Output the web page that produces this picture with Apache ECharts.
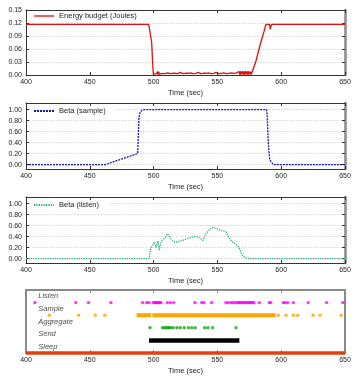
<!DOCTYPE html>
<html><head><meta charset="utf-8">
<script src="https://cdn.jsdelivr.net/npm/echarts/dist/echarts.min.js"></script>
<style>html,body{margin:0;padding:0;background:#fff}#c{width:360px;height:378px}</style>
</head><body><div id="c"></div>
<script>
// ---------- data ----------
const xMin = 400, xMax = 650, xStep = 50;
const energyTicks = [0, 0.03, 0.06, 0.09, 0.12, 0.15];
const betaTicks = [0, 0.2, 0.4, 0.6, 0.8, 1.0];

const energyTime = [400,430,460,490,491.5,492,494.5,495,495.5,496.2,496.6,497,497.7,498.5,499.2,499.8,501,502.5,503,503.5,504,504.5,505.5,507,509,511,513,515,517,519,521,523,525,527,529,531,533,535,537,539,541,543,545,547,549,551,553,555,557,559,561,563,565,566.5,
 567,567.5,568,568.5,569,569.5,570,570.5,571,571.5,572,572.5,573,573.5,574,574.5,575,575.5,576,576.5,
 577,580,584,586.5,588,590.8,591.5,592.3,600,650];
const energyValue = [0.117,0.117,0.117,0.117,0.114,0.117,0.117,0.113,0.117,0.117,0.114,0.117,0.117,0.075,0.03,0.002,0.004,0.003,0.008,0.001,0.008,0.002,0.005,0.004,0.003,0.005,0.003,0.004,0.004,0.003,0.006,0.003,0.004,0.004,0.005,0.003,0.004,0.006,0.003,0.004,0.004,0.005,0.003,0.004,0.006,0.003,0.004,0.005,0.003,0.004,0.005,0.004,0.005,0.004,
 0.008,0.001,0.009,0.001,0.008,0.002,0.009,0.001,0.008,0.001,0.009,0.002,0.008,0.001,0.009,0.001,0.008,0.002,0.008,0.001,
 0,0.03,0.075,0.1,0.117,0.117,0.106,0.117,0.117,0.117];

const sampleTime  = [400,462,487.5,488,488.5,489.5,491,493,588.5,589,589.5,590,590.5,591,592,593,594,650];
const sampleValue = [0,0,0.2,0.5,0.85,0.95,0.99,1,1,0.9,0.6,0.35,0.2,0.1,0.05,0.02,0,0];

const listenTime  = [400,496.5,497.5,499,500.5,502,503.5,504.5,506,508,511,514,517,520,525,530,533,536,538.5,541,544,546,549,552,555,557,559,562,564,567,569,571,573,575,650];
const listenValue = [0,0,0.18,0.2,0.3,0.2,0.32,0.15,0.32,0.36,0.45,0.35,0.29,0.31,0.35,0.39,0.41,0.38,0.33,0.45,0.53,0.57,0.55,0.52,0.5,0.48,0.38,0.3,0.27,0.2,0.08,0.03,0.01,0,0];

const stateNames = ['Sleep','Send','Aggregate','Sample','Listen'];
const stateColors = ['#e0400a','#000000','#11a811','#ffa500','#ff00ff'];
const listenEvents = [407,439,449,466.6,491.4,494.6,496.4,499.8,500.8,501.6,502.4,503.2,504,504.8,505.8,510.8,513.2,515.8,532.4,537.7,539.5,545.5,556.7,558.6,560.7,562,563.8,565.6,566.5,567.5,568.5,569.5,570.5,571.5,572.5,573.5,574.5,575.5,576.5,577.3,578.7,582.8,590.7,591.8,601.6,603,605,609.5,621.2,635.6,648.2];
const sampleEvents = [418.3,441.3,454.3,461.9,597.8,603.8,609.5,613,625,630.4,647];
const sampleSpans = [[486.7,498.2],[499,595.7]];
const aggregateEvents = [497.2,507,508.6,509.8,511,512.2,513.4,515.4,518.3,520.9,524,527.4,530,532.6,540,542.6,546.3,564.6];
const sendSpans = [[496.4,567.2]];
const sleepSpans = [[400,650]];

// ---------- chart ----------
const FF = 'Liberation Sans, Arial, sans-serif';
const dark = '#333', gray = '#8a8a8a';
const grids = [
  {left:26, right:15, top:10, height:65},
  {left:26, right:15, top:103, height:66},
  {left:26, right:15, top:197, height:66},
  {left:26, right:15, top:290, height:63}
];
const xAxis = [], yAxis = [];
grids.forEach((g, i) => {
  const fc = i === 3 ? gray : dark;
  const fw = i === 3 ? 2 : 1;
  const tick = {inside:true, length:3, lineStyle:{color: fc, width:1}};
  xAxis.push({gridIndex:i, type:'value', min:xMin, max:xMax, interval:xStep, position:'bottom',
    axisLine:{onZero:false, lineStyle:{color:fc, width:fw}}, axisTick:tick,
    axisLabel:{fontSize:7, margin:4, color:'#222', fontFamily:FF},
    splitLine:{show:false},
    name:'Time (sec)', nameLocation:'middle', nameGap:14,
    nameTextStyle:{fontSize:7.5, color:'#222', fontFamily:FF}});
  xAxis.push({gridIndex:i, type:'value', min:xMin, max:xMax, interval:xStep, position:'top',
    axisLine:{onZero:false, lineStyle:{color:fc, width:fw}}, axisTick:tick,
    axisLabel:{show:false}, splitLine:{show:false}});
});
// y axes
const ySplit = {show:true, lineStyle:{color:'#c8c8c8', type:[1.5,1.5], width:0.8}};
yAxis.push({gridIndex:0, type:'value', min:0, max:0.15, interval:0.03,
  axisLine:{show:true, onZero:false, lineStyle:{color:dark}}, axisTick:{inside:true, length:3, lineStyle:{color:dark}},
  axisLabel:{fontSize:7, margin:4, color:'#222', fontFamily:FF, formatter:v=>v.toFixed(2)}, splitLine:ySplit});
yAxis.push({gridIndex:0, type:'value', min:0, max:0.15, interval:0.03, position:'right',
  axisLine:{show:true, onZero:false, lineStyle:{color:gray, width:2.5}}, axisTick:{inside:true, length:3, lineStyle:{color:dark}},
  axisLabel:{show:false}, splitLine:{show:false}});
[1,2].forEach(i => {
  yAxis.push({gridIndex:i, type:'value', min:-0.08, max:1.12,
    axisLine:{show:true, onZero:false, lineStyle:{color:dark}},
    axisTick:{inside:true, length:3, lineStyle:{color:dark}, customValues:betaTicks},
    axisLabel:{fontSize:7, margin:4, color:'#222', fontFamily:FF, customValues:betaTicks, formatter:v=>v.toFixed(2)},
    splitLine:ySplit});
  yAxis.push({gridIndex:i, type:'value', min:-0.08, max:1.12, position:'right',
    axisLine:{show:true, onZero:false, lineStyle:{color:gray, width:2.5}},
    axisTick:{inside:true, length:3, lineStyle:{color:dark}, customValues:betaTicks},
    axisLabel:{show:false}, splitLine:{show:false}});
});
yAxis.push({gridIndex:3, type:'value', min:0, max:5,
  axisLine:{show:true, onZero:false, lineStyle:{color:gray, width:2}}, axisTick:{show:false},
  axisLabel:{show:false}, splitLine:{show:false}});
yAxis.push({gridIndex:3, type:'value', min:0, max:5, position:'right',
  axisLine:{show:true, onZero:false, lineStyle:{color:gray, width:2}}, axisTick:{show:false},
  axisLabel:{show:false}, splitLine:{show:false}});

const zip = (a, b) => a.map((t, k) => [t, b[k]]);
const series = [
  {name:'Energy budget (Joules)', type:'line', xAxisIndex:0, yAxisIndex:0, symbol:'none', clip:false,
   data:zip(energyTime, energyValue), lineStyle:{color:'#dd1111', width:1.3}, itemStyle:{color:'#dd1111'}},
  {name:'Beta (sample)', type:'line', xAxisIndex:2, yAxisIndex:2, symbol:'none',
   data:zip(sampleTime, sampleValue), lineStyle:{color:'#1515d0', width:1.3, type:[2,1]}, itemStyle:{color:'#1515d0'}},
  {name:'Beta (listen)', type:'line', xAxisIndex:4, yAxisIndex:4, symbol:'none',
   data:zip(listenTime, listenValue), lineStyle:{color:'#22a878', width:1.3, type:[1.2,1.2]}, itemStyle:{color:'#22a878'}}
];
function spanSeries(spans, level, color, width) {
  spans.forEach(s => series.push({type:'line', xAxisIndex:6, yAxisIndex:6, symbol:'none', clip:false,
    data:[[s[0], level],[s[1], level]], lineStyle:{color, width, cap:'butt'}, silent:true}));
}
function eventSeries(times, level, color) {
  series.push({type:'scatter', xAxisIndex:6, yAxisIndex:6, symbol:'circle', symbolSize:3.4,
    data:times.map(t => [t, level]), itemStyle:{color}, silent:true});
}
spanSeries(sleepSpans, 0, stateColors[0], 3.5);
spanSeries(sendSpans, 1, stateColors[1], 4.5);
spanSeries(sampleSpans, 3, stateColors[3], 4);
eventSeries(aggregateEvents, 2, stateColors[2]);
eventSeries(sampleEvents, 3, stateColors[3]);
eventSeries(listenEvents, 4, stateColors[4]);
// state labels
series.push({type:'scatter', xAxisIndex:6, yAxisIndex:6, symbolSize:0, silent:true,
  data:stateNames.map((n, k) => ({name:n, value:[409.6, k + 0.5]})),
  label:{show:true, position:'right', distance:0, formatter:p=>p.name, fontSize:7.5, fontStyle:'italic', color:'#222', fontFamily:FF}});

const legendBase = {orient:'horizontal', left:30, itemWidth:20, itemHeight:8, itemGap:5,
  backgroundColor:'#fff', padding:[1,10,1,3], itemStyle:{opacity:0},
  textStyle:{fontSize:7.5, color:'#222', fontFamily:FF}};
const legend = [
  Object.assign({}, legendBase, {top:11, data:['Energy budget (Joules)'], lineStyle:{width:2.2, color:'#e06666'}}),
  Object.assign({}, legendBase, {top:106, data:['Beta (sample)']}),
  Object.assign({}, legendBase, {top:200, data:['Beta (listen)']})
];

const chart = echarts.init(document.getElementById('c'), null, {renderer:'canvas'});
chart.setOption({animation:false, backgroundColor:'#fff', grid:grids, xAxis, yAxis, legend, series});
</script></body></html>
